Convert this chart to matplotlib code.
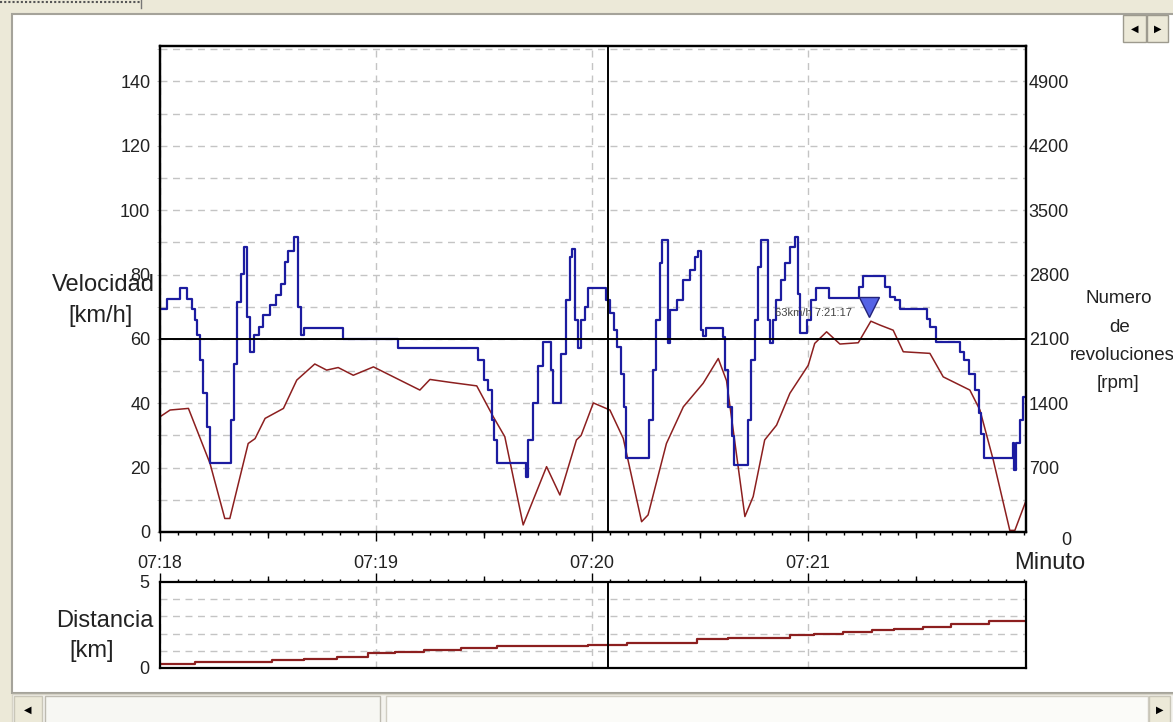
import numpy as np
import matplotlib
matplotlib.use('Agg')
import matplotlib.pyplot as plt
from matplotlib.patches import Rectangle
from matplotlib.transforms import ScaledTranslation

plt.rcParams['font.family'] = ['Liberation Sans', 'DejaVu Sans']

# seconds after 07:18:00
vel_t = [0, 2.8, 7.9, 13.9, 18, 19.4, 24.5, 26.4, 29.2, 34.3, 38, 43, 46.3, 49.5, 53.7,
         59.3, 72.2, 75, 80.6, 88, 92.6, 95.8, 100.9, 107.4, 111.1, 115.7, 117, 120.4,
         125, 128.7, 133.8, 135.6, 140.7, 145.4, 150.9, 155.1, 157.4, 162.5, 164.8, 168,
         171.3, 175, 180.1, 181.9, 185.2, 188.9, 194, 197.5, 200, 203.7, 206.5, 213.9,
         217.6, 225, 227.8, 231.5, 236.1, 237.5, 240.5]
vel = [35.8, 37.9, 38.4, 21.3, 4.2, 4.2, 27.5, 29, 35.3, 38.4, 47.2, 52.2, 50.3, 51.1, 48.7,
       51.3, 44.1, 47.4, 46.5, 45.4, 35.8, 29.6, 2.2, 20.3, 11.5, 28.6, 30, 40.1,
       37.9, 29.1, 3.2, 5.3, 27.5, 38.9, 46.2, 53.9, 47, 4.8, 11, 28.6,
       33.2, 43.1, 51.8, 58.6, 62.2, 58.4, 58.8, 65.5, 64.3, 62.7, 56, 55.5,
       48.2, 44.1, 37.9, 22.4, 0.5, 0.5, 9.4]

rpm_t = [0, 1.9, 5.6, 7.6, 8.8, 9.7, 10.2, 11.1, 12, 13, 13.9, 19.6, 20.6, 21.5, 22.5,
         23.4, 24.3, 25.1, 26.2, 27.4, 28.6, 30.5, 32.2, 33.6, 34.8, 35.7, 37.2, 38.4,
         39.3, 39.9, 50.9, 66.2, 88.4, 90, 91.2, 92.2, 92.9, 93.6, 101.8, 102.3, 103.5,
         104.9, 106.3, 108.6, 109.2, 111.4, 112.9, 113.8, 114.5, 115.3, 116.1, 117.1, 118,
         119, 123.8, 124.9, 126, 127.1, 128, 128.8, 129.4, 135.8, 137, 137.9, 138.9, 139.6,
         141, 141.6, 143.5, 145.4, 147.2, 148.6, 149.5, 150.2, 150.9, 151.8, 156.4, 157.1,
         157.9, 158.8, 159.4, 163.4, 164.3, 165.2, 166.2, 167.1, 168.9, 169.6, 170.4, 171.2,
         172.4, 173.7, 175.1, 176.3, 177.2, 177.9, 179.8, 181, 182.2, 185.9, 194.2, 195.4,
         201.5, 202.7, 204.1, 205.7, 213, 214, 215.5, 222.3, 223.5, 224.9, 226.3, 227.5,
         228.1, 228.8, 237, 237.3, 237.9, 238.8, 239.7, 240.5]
rpm = [2420, 2530, 2650, 2530, 2430, 2300, 2140, 1870, 1510, 1140, 750, 1220, 1830, 2500, 2810,
       3100, 2340, 1960, 2140, 2230, 2360, 2470, 2580, 2700, 2940, 3060, 3210, 2450,
       2140, 2220, 2100, 2000, 1870, 1650, 1540, 1220, 1000, 750, 600, 1000, 1400,
       1800, 2070, 1760, 1400, 1940, 2520, 2990, 3080, 2300, 2000, 2300, 2450,
       2650, 2520, 2380, 2200, 2010, 1720, 1360, 800, 1220, 1760, 2300, 2920, 3170,
       2050, 2410, 2520, 2740, 2850, 2990, 3060, 2200, 2130, 2220, 2120, 1760,
       1360, 1040, 730, 1220, 1870, 2300, 2880, 3170, 2300, 2050, 2300, 2520,
       2740, 2920, 3100, 3210, 2590, 2160, 2300, 2520, 2650, 2550, 2665, 2780,
       2665, 2560, 2520, 2430, 2320, 2230, 2070, 1960, 1870, 1720, 1540, 1290,
       1070, 800, 970, 670, 970, 1220, 1470, 1470]

dist_t = [0, 9.8, 31, 40, 49.1, 57.7, 65.4, 73.3, 83.5, 93.6, 119, 129.8, 149.1, 157.7,
          175, 181.6, 189.7, 197.9, 203.9, 212, 219.7, 230.3, 240.5]
dist = [0.25, 0.35, 0.44, 0.52, 0.65, 0.85, 0.92, 1.04, 1.15, 1.27, 1.33, 1.46, 1.67, 1.77,
        1.89, 1.98, 2.09, 2.19, 2.29, 2.40, 2.58, 2.71, 2.71]

minute_pos = [0, 60, 120, 180]
minute_labels = ['07:18', '07:19', '07:20', '07:21']
vel_ticks = [0, 20, 40, 60, 80, 100, 120, 140]
rpm_ticks = [700, 1400, 2100, 2800, 3500, 4200, 4900]
rpm_per_kmh = 35

cross_t, cross_v = 124.4, 60
mark_t, mark_v = 197, 63
mark_text = '63km/h 7:21:17'

W, H = 1173, 722
fig = plt.figure(figsize=(W / 100, H / 100), dpi=100, facecolor='#ECE9D8')


def box(x0, y0, x1, y1, **kw):
    # rectangle in pixel coords of the screenshot (y downwards)
    r = Rectangle((x0 / W, 1 - y1 / H), (x1 - x0) / W, (y1 - y0) / H,
                  transform=fig.transFigure, zorder=-10, **kw)
    fig.add_artist(r)
    return r


# window chrome
box(12, 14, W + 5, 693, facecolor='white', edgecolor='#a5a39a', lw=1.5)
box(12, 694, W + 5, H + 5, facecolor='#f4f3ee', edgecolor='#d6d3c6', lw=1)
box(14, 696, 42, H + 5, facecolor='#ECE9D8', edgecolor='#c9c6b8', lw=1)
box(45, 696, 380, H + 5, facecolor='#f7f7f3', edgecolor='#bdbab0', lw=1)
box(386, 696, 1148, H + 5, facecolor='#fbfbf8', edgecolor='#d0cdc2', lw=1)
box(1149, 696, 1170, H + 5, facecolor='#ECE9D8', edgecolor='#c9c6b8', lw=1)
box(1123, 15, 1146, 42, facecolor='#ECE9D8', edgecolor='#9d9a8e', lw=1)
box(1147, 15, 1168, 42, facecolor='#ECE9D8', edgecolor='#9d9a8e', lw=1)
arrow_kw = dict(family='DejaVu Sans', fontsize=7, ha='center', va='center', color='black')
fig.text(28 / W, 1 - 710 / H, '\u25c0', **arrow_kw)
fig.text(1160 / W, 1 - 710 / H, '\u25b6', **arrow_kw)
fig.text(1134.5 / W, 1 - 29 / H, '\u25c0', **arrow_kw)
fig.text(1157.5 / W, 1 - 29 / H, '\u25b6', **arrow_kw)
fig.add_artist(plt.Line2D([0, 140 / W], [1 - 2 / H, 1 - 2 / H], transform=fig.transFigure,
                          color='#555555', lw=1.5, ls=(0, (1, 1))))
fig.add_artist(plt.Line2D([141 / W, 141 / W], [1, 1 - 8 / H], transform=fig.transFigure,
                          color='#777777', lw=1))

grid_kw = dict(color='#c4c4c4', linestyle=(0, (5, 4)), linewidth=1)

# main panel
ax = fig.add_axes([160 / W, 1 - 532 / H, 866 / W, 486 / H])
ax.set_facecolor('none')
ax.plot(vel_t, vel, color='#8c1f1f', lw=1.1)
ax.set_xlim(0, 240.6)
ax.set_ylim(0, 151)
ax.set_yticks(vel_ticks)
ax.set_yticks(np.arange(10, 151, 20), minor=True)
ax.set_xticks(minute_pos, labels=minute_labels)
ax.set_xticks(np.arange(0, 241, 5), minor=True)
ax.grid(axis='x', which='major', **grid_kw)
ax.grid(axis='y', which='both', **grid_kw)
ax.tick_params(axis='x', which='major', direction='out', length=6.2, width=1, pad=10,
               labelsize=13, labelcolor='#222222')
ax.tick_params(axis='x', which='minor', direction='out', length=2.2, width=1)
ax.tick_params(axis='y', which='both', length=2, color='#bbbbbb', pad=5,
               labelsize=13, labelcolor='#222222')
for s in ax.spines.values():
    s.set_linewidth(1.6)
sec = ax.secondary_xaxis('bottom')
sec.set_xticks([30, 90, 150, 210])
sec.tick_params(length=4, width=1, labelbottom=False)
sec.spines['bottom'].set_visible(False)

ax2 = ax.twinx()
ax2.plot(rpm_t, rpm, color='#1c1ca0', lw=1.6, drawstyle='steps-post')
ax2.set_ylim(0, 151 * rpm_per_kmh)
ax2.set_yticks(rpm_ticks)
ax2.tick_params(axis='y', length=0, pad=2, labelsize=13, labelcolor='#222222')
ax2.text(1.046, 0, '0', transform=ax2.transAxes, ha='center', va='top', fontsize=13,
         color='#222222')
for s in ax2.spines.values():
    s.set_linewidth(1.6)

# cursor and marker
ax2.axvline(cross_t, color='black', lw=1.4)
ax2.axhline(cross_v * rpm_per_kmh, color='black', lw=1.4)
ax2.plot([mark_t], [mark_v], marker='v', ms=15, color='#5563e6', mec='#23237a', mew=1,
         transform=ax.transData + ScaledTranslation(0, 0.22, fig.dpi_scale_trans))
ax2.annotate(mark_text, xy=(mark_t, mark_v), xycoords=ax.transData, xytext=(-17, 16),
             textcoords='offset pixels', ha='right', va='center', fontsize=8, color='#444444')

# distance panel
axd = fig.add_axes([160 / W, 1 - 668 / H, 866 / W, 86 / H])
axd.set_facecolor('none')
axd.plot(dist_t, dist, color='#8c1f1f', lw=1.6, drawstyle='steps-post')
axd.axvline(cross_t, color='black', lw=1.4)
axd.set_xlim(0, 240.6)
axd.set_ylim(0, 5)
axd.set_yticks([0, 5])
axd.set_yticks([1, 2, 3, 4], minor=True)
axd.set_xticks(minute_pos)
axd.set_xticks(np.arange(0, 241, 5), minor=True)
axd.grid(axis='x', which='major', **grid_kw)
axd.grid(axis='y', which='minor', **grid_kw)
axd.tick_params(axis='x', which='both', top=True, bottom=False, labelbottom=False,
                direction='out')
axd.tick_params(axis='x', which='major', length=6.2, width=1)
axd.tick_params(axis='x', which='minor', length=2.2, width=1)
axd.tick_params(axis='y', which='both', length=0, pad=8, labelsize=13, labelcolor='#222222')
for s in axd.spines.values():
    s.set_linewidth(1.6)
sec2 = axd.secondary_xaxis('top')
sec2.set_xticks([30, 90, 150, 210])
sec2.tick_params(length=4, width=1, labeltop=False)
sec2.spines['top'].set_visible(False)

# axis titles
lab = dict(fontsize=17, color='#222222', ha='center', va='center')
fig.text(103 / W, 1 - 285 / H, 'Velocidad', **lab)
fig.text(101 / W, 1 - 316 / H, '[km/h]', **lab)
fig.text(1050 / W, 1 - 563 / H, 'Minuto', **lab)
fig.text(105 / W, 1 - 621 / H, 'Distancia', **lab)
fig.text(92 / W, 1 - 651 / H, '[km]', **lab)
rl = dict(fontsize=13.5, color='#222222', ha='center', va='center')
fig.text(1119 / W, 1 - 298 / H, 'Numero', **rl)
fig.text(1120 / W, 1 - 327 / H, 'de', **rl)
fig.text(1122 / W, 1 - 355 / H, 'revoluciones', **rl)
fig.text(1118 / W, 1 - 383 / H, '[rpm]', **rl)

fig.savefig('out.png', dpi=100, facecolor=fig.get_facecolor())
